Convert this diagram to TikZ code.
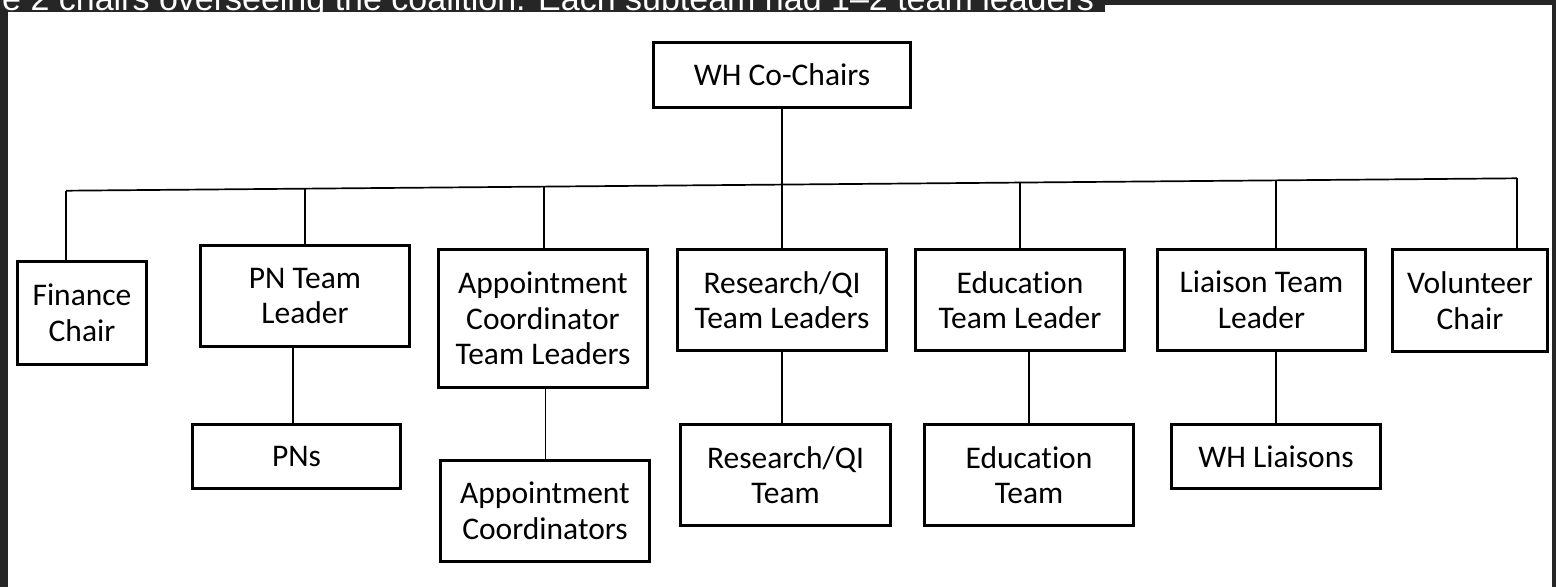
\documentclass[tikz,border=0pt]{standalone}
\usepackage{fontspec}
\setmainfont{Carlito}[Ligatures=NoCommon]
\newfontfamily\capfont{Liberation Sans}
\usetikzlibrary{calc}
\definecolor{darkbg}{HTML}{262626}
\begin{document}
\begin{tikzpicture}[x=1pt,y=-1pt,
  box/.style={draw=black, line width=3.2pt, rectangle, inner sep=0pt, align=center,
              font=\fontsize{31.5}{35.5}\selectfont},
  conn/.style={draw=black, line width=1.7pt}]
\useasboundingbox (0,0) rectangle (1556,587);
% background frame
\fill[darkbg] (0,0) rectangle (1556,587);
\fill[white] (7.5,5) rectangle (1552,590);
\fill[darkbg] (0,0) rectangle (1105,11.5);
\begin{scope}
\clip (0,0) rectangle (1105,11.5);
\node[anchor=base west, inner sep=0pt, text=white, font=\capfont\fontsize{34}{38}\selectfont] (cap) at (2,10)
  {e 2 chairs overseeing the coalition. Each subteam had 1–2 team leaders};
\end{scope}
% top
\node[box, minimum width=257pt, minimum height=65pt] (chairs) at (782,75) {WH Co-Chairs};
% second row
\node[box, minimum width=129pt, minimum height=103pt] (fin) at (82,313) {Finance\\Chair};
\node[box, minimum width=209pt, minimum height=101pt] (pntl) at (305,296) {PN Team\\Leader};
\node[box, minimum width=209pt, minimum height=138pt] (apptl) at (543,318.5) {Appointment\\Coordinator\\Team Leaders};
\node[box, minimum width=209pt, minimum height=101pt] (restl) at (782,300) {Research/QI\\Team Leaders};
\node[box, minimum width=209pt, minimum height=101pt] (edutl) at (1020,300) {Education\\Team Leader};
\node[box, minimum width=208pt, minimum height=101pt] (liatl) at (1261.5,300) {Liaison Team\\Leader};
\node[box, minimum width=155pt, minimum height=102pt] (vol) at (1470,300.5) {Volunteer\\Chair};
% third row
\node[box, minimum width=208pt, minimum height=64pt] (pns) at (296.5,456.5) {PNs};
\node[box, minimum width=209pt, minimum height=101pt] (appc) at (545,511) {Appointment\\Coordinators};
\node[box, minimum width=210pt, minimum height=101pt] (rest) at (785.5,475) {Research/QI\\Team};
\node[box, minimum width=209pt, minimum height=101pt] (edut) at (1029,475) {Education\\Team};
\node[box, minimum width=209pt, minimum height=64pt] (liai) at (1276,456.5) {WH Liaisons};
% bus coordinates (slightly tilted line)
\coordinate (b1) at (66,190.7);
\coordinate (b2) at (305,188.7);
\coordinate (b3) at (544,186.6);
\coordinate (b4) at (782,184.6);
\coordinate (b5) at (1020,182.5);
\coordinate (b6) at (1276,180.4);
\coordinate (b7) at (1517,178.3);
\draw[conn] (b1) -- (b7);
\draw[conn] (chairs.south) -- (b4);
\draw[conn] (b1) -- (b1 |- fin.north);
\draw[conn] (b2) -- (b2 |- pntl.north);
\draw[conn] (b3) -- (b3 |- apptl.north);
\draw[conn] (b4) -- (b4 |- restl.north);
\draw[conn] (b5) -- (b5 |- edutl.north);
\draw[conn] (b6) -- (b6 |- liatl.north);
\draw[conn] (b7) -- (b7 |- vol.north);
% lower connectors
\coordinate (xpn) at (293,0);
\coordinate (xap) at (545.5,0);
\coordinate (xre) at (782,0);
\coordinate (xed) at (1029,0);
\coordinate (xli) at (1276,0);
\draw[conn] (pntl.south -| xpn) -- (pns.north -| xpn);
\draw[conn] (apptl.south -| xap) -- (appc.north -| xap);
\draw[conn] (restl.south -| xre) -- (rest.north -| xre);
\draw[conn] (edutl.south -| xed) -- (edut.north -| xed);
\draw[conn] (liatl.south -| xli) -- (liai.north -| xli);
\end{tikzpicture}
\end{document}
